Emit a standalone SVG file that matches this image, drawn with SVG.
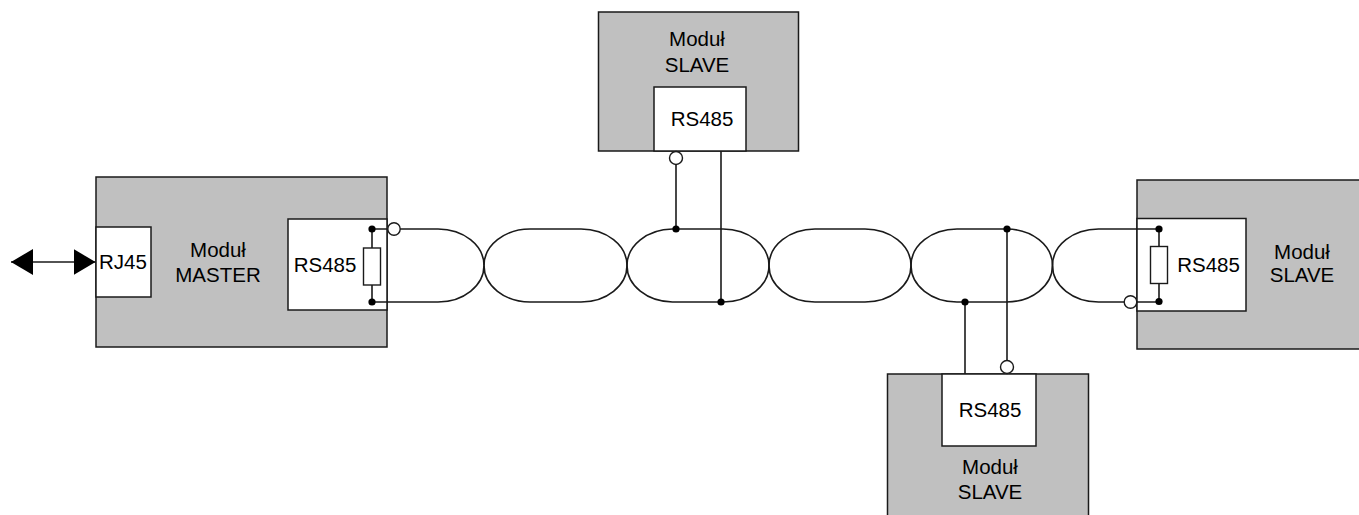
<svg xmlns="http://www.w3.org/2000/svg" width="1359" height="515" viewBox="0 0 1359 515">
<style>
.mod{fill:#c0c0c0;stroke:#1a1a1a;stroke-width:1.5}
.box{fill:#ffffff;stroke:#1a1a1a;stroke-width:1.5}
.w{fill:none;stroke:#1a1a1a;stroke-width:1.6}
.res{fill:#ffffff;stroke:#1a1a1a;stroke-width:1.4}
.dot{fill:#000000}
.oc{fill:#ffffff;stroke:#1a1a1a;stroke-width:1.4}
text{font-family:"Liberation Sans",Arial,sans-serif;font-size:20.5px;fill:#000000;text-anchor:middle}
</style>
<defs>
<marker id="ah" viewBox="0 0 22 26" refX="22" refY="13" markerWidth="22" markerHeight="26" markerUnits="userSpaceOnUse" orient="auto-start-reverse">
<path d="M0,0 L22,13 L0,26 Z" fill="#000000"/>
</marker>
</defs>
<rect width="1359" height="515" fill="#ffffff"/>

<g id="master">
<rect class="mod" x="96" y="177" width="291" height="170"/>
<rect class="box" x="96" y="227" width="55" height="70"/>
<text x="123" y="269">RJ45</text>
<text x="218" y="257">Moduł</text>
<text x="218" y="282">MASTER</text>
<rect class="box" x="288" y="219" width="99" height="91"/>
<text x="325" y="272">RS485</text>
<line class="w" x1="372" y1="229" x2="372" y2="302"/>
<rect class="res" x="363.5" y="248" width="17" height="37"/>
</g>

<g id="slave-top">
<rect class="mod" x="598.5" y="12" width="200" height="139"/>
<rect class="box" x="654" y="87" width="92" height="64"/>
<text x="697" y="46">Moduł</text>
<text x="697" y="72">SLAVE</text>
<text x="702" y="126">RS485</text>
</g>

<g id="slave-right">
<rect class="mod" x="1137" y="180" width="240" height="169"/>
<rect class="box" x="1137" y="218.5" width="109" height="92.5"/>
<text x="1208.5" y="272">RS485</text>
<text x="1302" y="259">Moduł</text>
<text x="1302" y="282">SLAVE</text>
<line class="w" x1="1159" y1="229" x2="1159" y2="301.5"/>
<rect class="res" x="1150.5" y="246.5" width="17" height="37"/>
</g>

<g id="slave-bottom">
<rect class="mod" x="887.5" y="374" width="201" height="160"/>
<rect class="box" x="942" y="374" width="94" height="72"/>
<text x="990" y="417">RS485</text>
<text x="990" y="474">Moduł</text>
<text x="990" y="499">SLAVE</text>
</g>

<g id="connectors">
<line class="w" x1="11" y1="262" x2="95.5" y2="262" marker-start="url(#ah)" marker-end="url(#ah)"/>
<!-- cable start at master -->
<path class="w" d="M372,229 H388 M400,229 H438 A46,36.5 0 0 1 484,265.5"/>
<path class="w" d="M372,302 H438 A46,36.5 0 0 0 484,265.5"/>
<!-- twisted pair lobes -->
<path class="w" d="M530,229 H581 A46,36.5 0 0 1 627,265.5 A46,36.5 0 0 1 581,302 H530 A46,36.5 0 0 1 484,265.5 A46,36.5 0 0 1 530,229 Z"/>
<path class="w" d="M672.5,229 H723 A46,36.5 0 0 1 769,265.5 A46,36.5 0 0 1 723,302 H672.5 A46,36.5 0 0 1 627,265.5 A46,36.5 0 0 1 672.5,229 Z"/>
<path class="w" d="M815,229 H865 A46,36.5 0 0 1 911,265.5 A46,36.5 0 0 1 865,302 H815 A46,36.5 0 0 1 769,265.5 A46,36.5 0 0 1 815,229 Z"/>
<path class="w" d="M957,229 H1006.5 A46,36.5 0 0 1 1052.5,265.5 A46,36.5 0 0 1 1006.5,302 H957 A46,36.5 0 0 1 911,265.5 A46,36.5 0 0 1 957,229 Z"/>
<!-- cable end at right slave -->
<path class="w" d="M1052.5,265.5 A46,36.5 0 0 1 1098.5,229 H1159"/>
<path class="w" d="M1052.5,265.5 A46,36.5 0 0 0 1098.5,302 H1124 M1136.5,302 H1159"/>
<!-- top slave taps -->
<line class="w" x1="676" y1="164.5" x2="676" y2="229"/>
<line class="w" x1="721" y1="151" x2="721" y2="302"/>
<!-- bottom slave taps -->
<line class="w" x1="965" y1="302" x2="965" y2="374"/>
<line class="w" x1="1007" y1="229" x2="1007" y2="360.5"/>
<!-- junction dots -->
<circle class="dot" cx="372" cy="229" r="3.6"/>
<circle class="dot" cx="372" cy="302" r="3.6"/>
<circle class="dot" cx="676" cy="229" r="3.6"/>
<circle class="dot" cx="721" cy="302" r="3.6"/>
<circle class="dot" cx="965" cy="302" r="3.6"/>
<circle class="dot" cx="1007" cy="229" r="3.6"/>
<circle class="dot" cx="1159" cy="229" r="3.6"/>
<circle class="dot" cx="1159" cy="301.5" r="3.6"/>
<!-- open terminals -->
<circle class="oc" cx="394" cy="229" r="6.2"/>
<circle class="oc" cx="676" cy="158" r="6.5"/>
<circle class="oc" cx="1007" cy="367" r="6.5"/>
<circle class="oc" cx="1130.5" cy="302" r="6.3"/>
</g>
</svg>
